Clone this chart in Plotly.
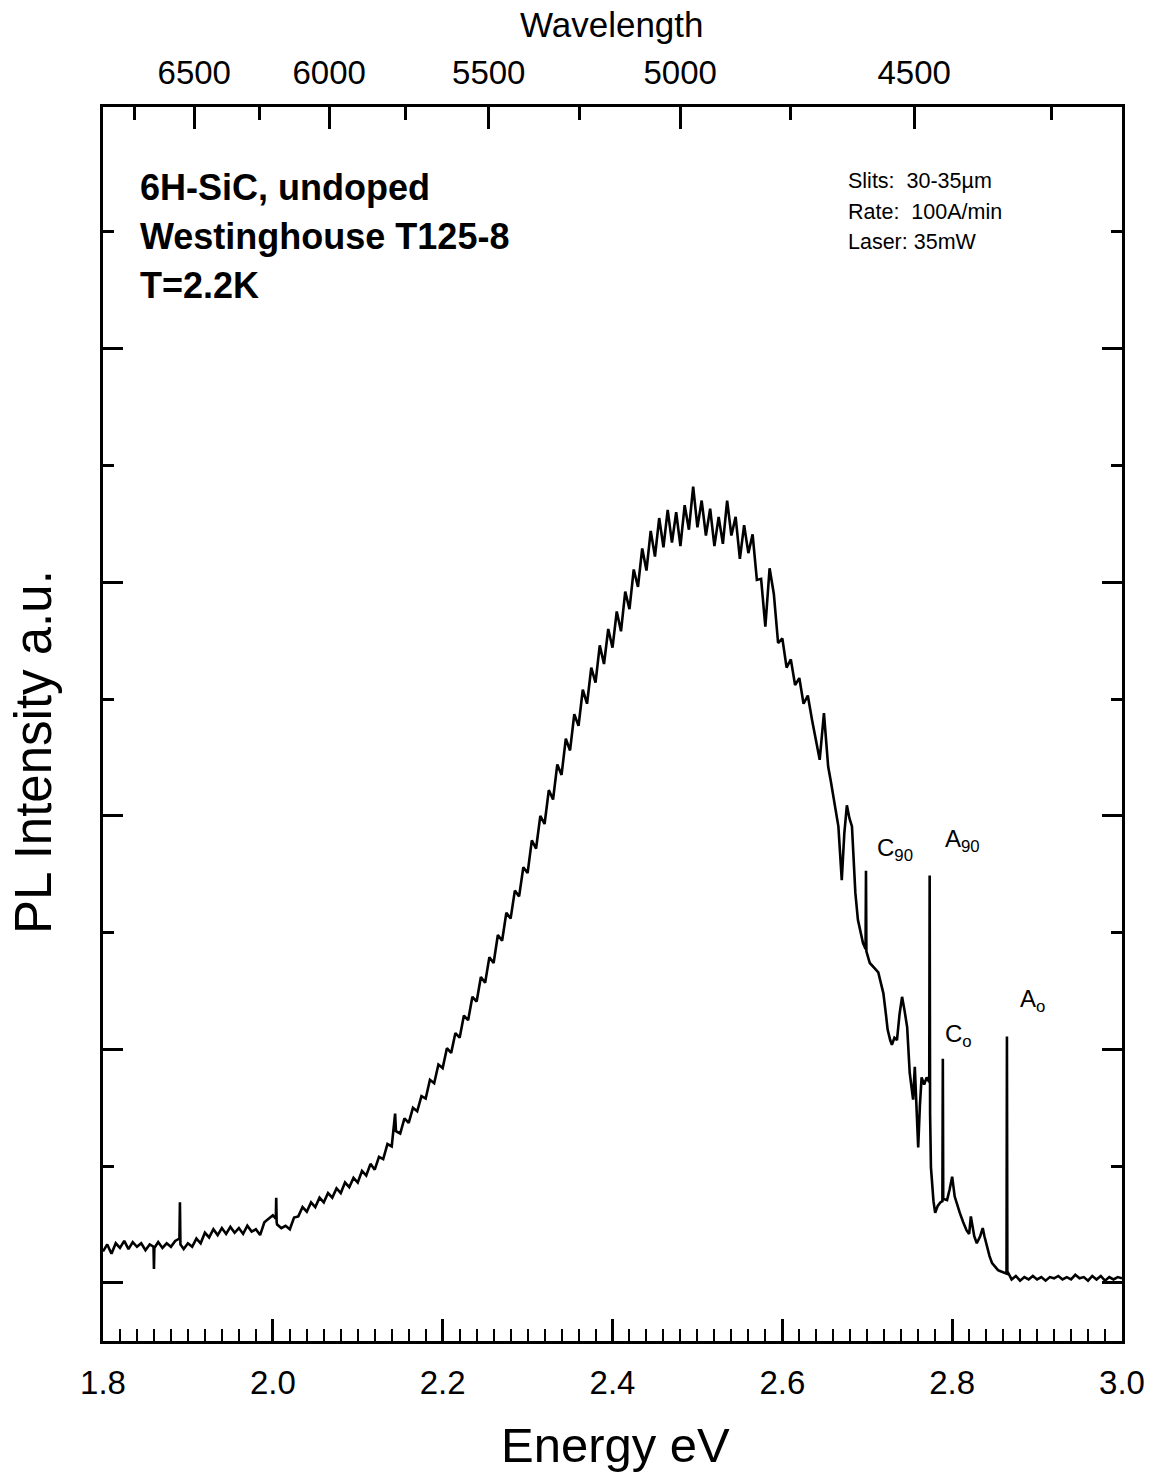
import plotly.graph_objects as go

# ---- PL spectrum of 6H-SiC (energy in eV, intensity in a.u.) ----
# low-energy tail, 1.80-1.995 eV
energy_tail = [1.800, 1.805, 1.810, 1.815, 1.820, 1.825, 1.830, 1.835, 1.840, 1.845,
               1.850, 1.855, 1.8595, 1.8600, 1.8605, 1.865, 1.870, 1.875, 1.880, 1.885,
               1.8900, 1.8906, 1.8912, 1.895, 1.900, 1.905, 1.910, 1.915, 1.920, 1.925,
               1.930, 1.935, 1.940, 1.945, 1.950, 1.955, 1.960, 1.965, 1.970, 1.975,
               1.980, 1.985, 1.990, 1.995]
intensity_tail = [0.27, 0.33, 0.25, 0.34, 0.30, 0.36, 0.29, 0.35, 0.31, 0.34,
                  0.28, 0.33, 0.31, 0.12, 0.30, 0.35, 0.30, 0.34, 0.31, 0.36,
                  0.38, 0.69, 0.33, 0.29, 0.34, 0.31, 0.38, 0.34, 0.43, 0.39,
                  0.46, 0.41, 0.47, 0.42, 0.48, 0.43, 0.47, 0.42, 0.49, 0.44,
                  0.46, 0.41, 0.52, 0.55]

# rising flank, 2.00-2.40 eV
energy_rise = [2.000, 2.0035, 2.0040, 2.0045, 2.005, 2.010, 2.015, 2.020, 2.025, 2.030,
               2.035, 2.040, 2.045, 2.050, 2.055, 2.060, 2.065, 2.070, 2.075, 2.080,
               2.085, 2.090, 2.095, 2.100, 2.105, 2.110, 2.115, 2.120, 2.125, 2.130,
               2.135, 2.140, 2.1440, 2.145, 2.150, 2.155, 2.160, 2.165, 2.170, 2.175,
               2.180, 2.185, 2.190, 2.195, 2.200, 2.205, 2.210, 2.215, 2.220, 2.225,
               2.230, 2.235, 2.240, 2.245, 2.250, 2.255, 2.260, 2.265, 2.270, 2.275,
               2.280, 2.285, 2.290, 2.295, 2.300, 2.305, 2.310, 2.315, 2.320, 2.325,
               2.330, 2.335, 2.340, 2.345, 2.350, 2.355, 2.360, 2.365, 2.370, 2.375,
               2.380, 2.385, 2.390, 2.395, 2.400]
intensity_rise = [0.58, 0.55, 0.73, 0.52, 0.50, 0.47, 0.49, 0.46, 0.56, 0.57,
                  0.65, 0.61, 0.69, 0.65, 0.73, 0.69, 0.77, 0.73, 0.81, 0.77,
                  0.86, 0.82, 0.90, 0.86, 0.96, 0.92, 1.02, 0.97, 1.08, 1.06,
                  1.19, 1.17, 1.45, 1.30, 1.28, 1.41, 1.37, 1.50, 1.47, 1.60,
                  1.58, 1.74, 1.71, 1.87, 1.84, 2.01, 1.97, 2.14, 2.10, 2.29,
                  2.25, 2.45, 2.41, 2.62, 2.57, 2.79, 2.74, 2.98, 2.93, 3.17,
                  3.12, 3.36, 3.31, 3.56, 3.51, 3.79, 3.72, 4.00, 3.93, 4.22,
                  4.14, 4.44, 4.35, 4.66, 4.56, 4.87, 4.77, 5.08, 4.96, 5.27,
                  5.14, 5.46, 5.30, 5.60, 5.44]

# band maximum, 2.405-2.64 eV
energy_peak = [2.405, 2.410, 2.415, 2.420, 2.425, 2.430, 2.435, 2.440, 2.445, 2.450,
               2.455, 2.460, 2.465, 2.470, 2.475, 2.480, 2.485, 2.490, 2.495, 2.500,
               2.505, 2.510, 2.515, 2.520, 2.525, 2.530, 2.535, 2.540, 2.545, 2.550,
               2.555, 2.560, 2.565, 2.570, 2.575, 2.580, 2.585, 2.590, 2.595, 2.600,
               2.605, 2.610, 2.615, 2.620, 2.625, 2.630, 2.635, 2.640]
intensity_peak = [5.75, 5.58, 5.92, 5.77, 6.11, 5.96, 6.29, 6.10, 6.44, 6.22,
                  6.55, 6.30, 6.62, 6.34, 6.60, 6.31, 6.66, 6.45, 6.82, 6.47,
                  6.70, 6.40, 6.63, 6.31, 6.56, 6.33, 6.70, 6.40, 6.56, 6.20,
                  6.49, 6.25, 6.41, 6.02, 6.03, 5.62, 6.12, 5.90, 5.48, 5.52,
                  5.27, 5.34, 5.12, 5.18, 4.96, 5.03, 4.82, 4.62]

# structured high-energy edge with the sharp lines, 2.644-2.87 eV
energy_edge = [2.644, 2.649, 2.654, 2.657, 2.660, 2.663, 2.666, 2.670, 2.673, 2.676,
               2.679, 2.682, 2.686, 2.689, 2.692, 2.695, 2.6980, 2.6985, 2.6990, 2.703,
               2.708, 2.713, 2.716, 2.719, 2.722, 2.724, 2.727, 2.729, 2.732, 2.735,
               2.738, 2.741, 2.744, 2.747, 2.750, 2.752, 2.754, 2.756, 2.758, 2.760,
               2.762, 2.764, 2.767, 2.770, 2.7730, 2.7735, 2.7740, 2.775, 2.778, 2.780,
               2.783, 2.786, 2.7885, 2.7890, 2.7895, 2.794, 2.797, 2.800, 2.803, 2.806,
               2.809, 2.813, 2.817, 2.820, 2.822, 2.826, 2.829, 2.833, 2.836, 2.838,
               2.841, 2.844, 2.847, 2.850, 2.854, 2.857, 2.860, 2.8640, 2.8645, 2.8650,
               2.870]
intensity_edge = [4.48, 4.88, 4.42, 4.30, 4.18, 4.05, 3.91, 3.45, 3.85, 4.09,
                  3.98, 3.91, 3.34, 3.11, 3.00, 2.91, 2.86, 3.53, 2.84, 2.74,
                  2.70, 2.66, 2.57, 2.48, 2.30, 2.17, 2.08, 2.04, 2.10, 2.08,
                  2.30, 2.45, 2.33, 2.19, 1.80, 1.68, 1.57, 1.85, 1.45, 1.16,
                  1.52, 1.76, 1.70, 1.76, 1.72, 3.49, 1.45, 0.99, 0.70, 0.60,
                  0.66, 0.69, 0.70, 1.92, 0.72, 0.71, 0.80, 0.91, 0.74, 0.66,
                  0.60, 0.52, 0.45, 0.42, 0.57, 0.40, 0.34, 0.40, 0.47, 0.40,
                  0.31, 0.23, 0.17, 0.14, 0.11, 0.10, 0.09, 0.08, 2.11, 0.10,
                  0.03]

# background above the gap, 2.875-3.00 eV
energy_bg = [2.875, 2.880, 2.885, 2.890, 2.895, 2.900, 2.905, 2.910, 2.915, 2.920,
             2.925, 2.930, 2.935, 2.940, 2.945, 2.950, 2.955, 2.960, 2.965, 2.970,
             2.975, 2.980, 2.985, 2.990, 2.995, 3.000]
intensity_bg = [0.06, 0.02, 0.05, 0.03, 0.06, 0.03, 0.05, 0.02, 0.05, 0.04,
                0.06, 0.03, 0.05, 0.03, 0.07, 0.04, 0.05, 0.02, 0.06, 0.03,
                0.06, 0.02, 0.05, 0.03, 0.05, 0.04]

energy = energy_tail + energy_rise + energy_peak + energy_edge + energy_bg
intensity = intensity_tail + intensity_rise + intensity_peak + intensity_edge + intensity_bg

# top axis: wavelength in Angstrom
wl_major = [6500, 6000, 5500, 5000, 4500]
wl_minor = [6750, 6250, 5750, 5250, 4750, 4250]
HC = 12398.42  # eV * Angstrom

# line labels (position in eV / a.u.)
line_labels = ["C<sub>90</sub>", "A<sub>90</sub>", "C<sub>o</sub>", "A<sub>o</sub>"]
line_label_x = [2.709, 2.789, 2.789, 2.877]
line_label_y = [3.71, 3.79, 2.12, 2.42]

FONT = "Liberation Sans, Arial, Helvetica, sans-serif"
W, H = 1156, 1477
L, R, T, B = 103, 34, 107, 136

fig = go.Figure()
fig.add_trace(go.Scatter(x=energy, y=intensity, mode="lines",
                         line=dict(color="black", width=2.6), showlegend=False,
                         hoverinfo="skip"))
# the same spectrum bound to the wavelength axis (transparent) so the top axis is drawn
fig.add_trace(go.Scatter(x=energy, y=intensity, xaxis="x2", mode="lines",
                         line=dict(color="rgba(0,0,0,0)", width=0), showlegend=False,
                         hoverinfo="skip"))

for txt, lx, ly in zip(line_labels, line_label_x, line_label_y):
    fig.add_annotation(x=lx, y=ly, xref="x", yref="y", text=txt, showarrow=False,
                       xanchor="left", yanchor="middle",
                       font=dict(family=FONT, size=24, color="black"))


def px_x(px):
    return (px - L) / (W - L - R)


def px_y(py):
    return (H - B - py) / (H - T - B)


# sample description
for i, txt in enumerate(["6H-SiC, undoped", "Westinghouse T125-8", "T=2.2K"]):
    fig.add_annotation(x=px_x(138), y=px_y(188 + 48.5 * i), xref="paper", yref="paper",
                       text=f"<b>{txt}</b>", showarrow=False, xanchor="left",
                       yanchor="middle", font=dict(family=FONT, size=36, color="black"))

# measurement conditions
for i, txt in enumerate(["Slits:  30-35\u00b5m", "Rate:  100A/min", "Laser: 35mW"]):
    fig.add_annotation(x=px_x(846), y=px_y(181 + 30.5 * i), xref="paper", yref="paper",
                       text=txt, showarrow=False, xanchor="left", yanchor="middle",
                       font=dict(family=FONT, size=21.5, color="black"))

# axis titles
fig.add_annotation(x=px_x(612), y=px_y(24), xref="paper", yref="paper", text="Wavelength",
                   showarrow=False, xanchor="center", yanchor="middle",
                   font=dict(family=FONT, size=35, color="black"))
fig.add_annotation(x=px_x(615), y=px_y(1445), xref="paper", yref="paper", text="Energy eV",
                   showarrow=False, xanchor="center", yanchor="middle",
                   font=dict(family=FONT, size=49, color="black"))
fig.add_annotation(x=px_x(33), y=px_y(752), xref="paper", yref="paper",
                   text="PL Intensity a.u.", textangle=-90, showarrow=False,
                   xanchor="center", yanchor="middle",
                   font=dict(family=FONT, size=51, color="black"))

fig.update_layout(
    width=W, height=H,
    margin=dict(l=L, r=R, t=T, b=B, pad=0),
    paper_bgcolor="white", plot_bgcolor="white",
    font=dict(family=FONT, color="black"),
    xaxis=dict(range=[1.8, 3.0], tick0=1.8, dtick=0.2, tickformat=".1f",
               ticks="inside", ticklen=22, tickwidth=2.5, tickcolor="black",
               minor=dict(dtick=0.02, tick0=1.8, ticks="inside", ticklen=12,
                          tickwidth=2, tickcolor="black"),
               showline=True, linewidth=3, linecolor="black", mirror=False,
               showgrid=False, zeroline=False,
               tickfont=dict(family=FONT, size=33, color="black"),
               ticklabelstandoff=10),
    xaxis2=dict(range=[1.8, 3.0], overlaying="x", side="top", anchor="y",
                tickmode="array", tickvals=[HC / w for w in wl_major],
                ticktext=[str(w) for w in wl_major],
                ticks="inside", ticklen=22, tickwidth=2.5, tickcolor="black",
                minor=dict(tickmode="array", tickvals=[HC / w for w in wl_minor],
                           ticks="inside", ticklen=13, tickwidth=2.5,
                           tickcolor="black"),
                showline=True, linewidth=3, linecolor="black",
                showgrid=False, zeroline=False,
                tickfont=dict(family=FONT, size=33, color="black"),
                ticklabelstandoff=7),
    yaxis=dict(range=[-0.497, 10.07], tickmode="array", tickvals=[0, 2, 4, 6, 8],
               ticks="inside", ticklen=20, tickwidth=2.5, tickcolor="black",
               minor=dict(tickmode="array", tickvals=[1, 3, 5, 7, 9], ticks="inside",
                          ticklen=11, tickwidth=2.5, tickcolor="black"),
               showticklabels=False, showline=True, linewidth=3, linecolor="black",
               mirror="ticks", showgrid=False, zeroline=False),
)

fig.write_html("out.html")
